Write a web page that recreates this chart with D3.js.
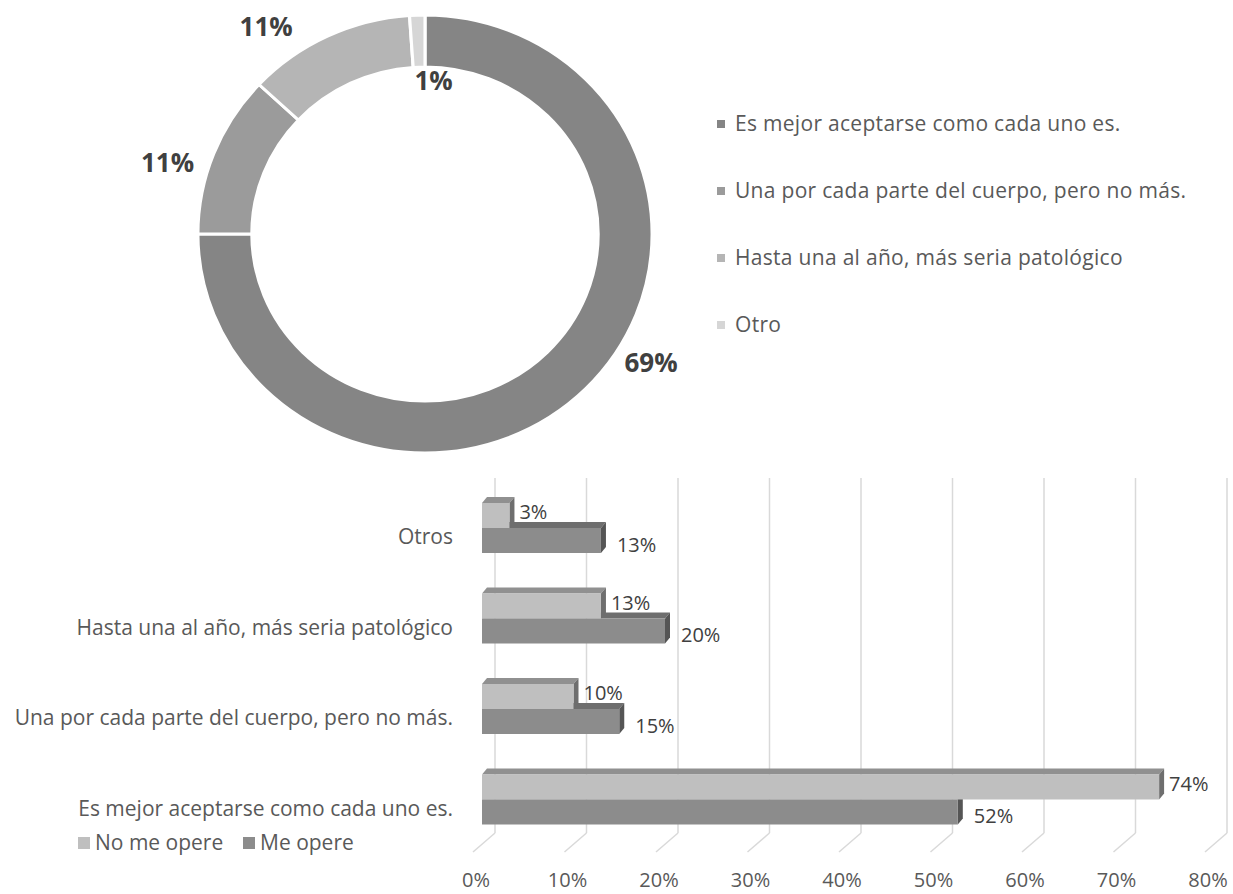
<!DOCTYPE html>
<html lang="es">
<head>
<meta charset="UTF-8">
<title>Cirugías estéticas</title>
<script src="https://d3js.org/d3.v7.min.js"></script>
<style>
  body { margin: 0; background: #fff; }
  svg text { font-family: "Open Sans", "Noto Sans", sans-serif; }
</style>
</head>
<body>
<svg width="1233" height="894"></svg>
<script>
// donut data
const donutLabels = [
  "Es mejor aceptarse como cada uno es.",
  "Una por cada parte del cuerpo, pero no más.",
  "Hasta una al año, más seria patológico",
  "Otro"
];
const donutValues = [69, 11, 11, 1];

// bar data
const barCategories = [
  "Otros",
  "Hasta una al año, más seria patológico",
  "Una por cada parte del cuerpo, pero no más.",
  "Es mejor aceptarse como cada uno es."
];
const seriesNames = ["No me opere", "Me opere"];
const noMeOpere = [3, 13, 10, 74];
const meOpere = [13, 20, 15, 52];
const xTicks = [0, 10, 20, 30, 40, 50, 60, 70, 80];

const svg = d3.select("svg");

// ---------- donut ----------
const donutColors = ["#858585", "#9b9b9b", "#b5b5b5", "#d6d6d6"];
const cx = 425, cy = 234;
const dg = svg.append("g").attr("transform", `translate(${cx},${cy}) scale(1.037,1)`);

const pie = d3.pie().sort(null).value(d => d);
const arc = d3.arc().innerRadius(167).outerRadius(219);

dg.selectAll("path")
  .data(pie(donutValues))
  .join("path")
  .attr("d", arc)
  .attr("fill", (d, i) => donutColors[i])
  .attr("stroke", "#fff")
  .attr("stroke-width", 3);

// label spots (angle in degrees clockwise from top, distance)
const labelSpots = [[119.6, 260], [285.4, 267], [322.5, 261], [3.2, 153]];
svg.selectAll(".dlabel")
  .data(donutValues)
  .join("text")
  .attr("class", "dlabel")
  .attr("x", (d, i) => cx + labelSpots[i][1] * Math.sin(labelSpots[i][0] * Math.PI / 180))
  .attr("y", (d, i) => cy - labelSpots[i][1] * Math.cos(labelSpots[i][0] * Math.PI / 180))
  .attr("dy", "0.35em")
  .attr("text-anchor", "middle")
  .attr("font-size", 26)
  .attr("font-weight", "bold")
  .attr("fill", "#404040")
  .text(d => d + "%");

const dLegend = svg.append("g").attr("transform", "translate(717,124)");
donutLabels.forEach((t, i) => {
  const row = dLegend.append("g").attr("transform", `translate(0,${i * 67})`);
  row.append("rect").attr("x", 0).attr("y", -4).attr("width", 8).attr("height", 8)
    .attr("fill", donutColors[i]);
  row.append("text").attr("x", 18).attr("dy", "0.35em")
    .attr("font-size", 21).attr("letter-spacing", 0.3)
    .attr("fill", "#595959").text(t);
});

// ---------- 3D bars ----------
const x = d3.scaleLinear().domain([0, 80]).range([482, 1214]);
const y = d3.scaleBand().domain(barCategories).range([482.75, 844.75])
  .paddingInner(0.4475).paddingOuter(0.22375);
const ySub = d3.scaleBand().domain(seriesNames).range([0, y.bandwidth()]);

const depthX = 5, depthY = -6;
const wallX = 13, wallTop = 478, wallBottom = 833;

// back wall gridlines + floor diagonals
const grid = svg.append("g");
xTicks.forEach(t => {
  grid.append("line")
    .attr("x1", x(t) + wallX).attr("x2", x(t) + wallX)
    .attr("y1", wallTop).attr("y2", wallBottom)
    .attr("stroke", "#d9d9d9").attr("stroke-width", 1.5);
  grid.append("line")
    .attr("x1", x(t) + wallX).attr("y1", wallBottom)
    .attr("x2", x(t) - 9).attr("y2", 852)
    .attr("stroke", "#d9d9d9").attr("stroke-width", 1.5);
});

svg.append("g").selectAll("text")
  .data(xTicks)
  .join("text")
  .attr("x", d => x(d) - 6)
  .attr("y", 880)
  .attr("dy", "0.35em")
  .attr("text-anchor", "middle")
  .attr("font-size", 20)
  .attr("fill", "#595959")
  .text(d => d + "%");

const faces = {
  "No me opere": { front: "#bfbfbf", top: "#909090", side: "#6e6e6e" },
  "Me opere": { front: "#8c8c8c", top: "#6e6e6e", side: "#555555" }
};

const bars = [];
barCategories.forEach((c, i) => {
  bars.push({ cat: c, series: "Me opere", value: meOpere[i] });
  bars.push({ cat: c, series: "No me opere", value: noMeOpere[i] });
});

const barG = svg.append("g");
bars.forEach(b => {
  const x0 = x(0), x1 = x(b.value);
  const y0 = y(b.cat) + ySub(b.series), h = ySub.bandwidth();
  const f = faces[b.series];
  const g = barG.append("g");
  g.append("polygon")
    .attr("points", [[x0, y0], [x0 + depthX, y0 + depthY], [x1 + depthX, y0 + depthY], [x1, y0]].join(" "))
    .attr("fill", f.top);
  g.append("polygon")
    .attr("points", [[x1, y0], [x1 + depthX, y0 + depthY], [x1 + depthX, y0 + h + depthY], [x1, y0 + h]].join(" "))
    .attr("fill", f.side);
  g.append("rect")
    .attr("x", x0).attr("y", y0).attr("width", x1 - x0).attr("height", h)
    .attr("fill", f.front);
  g.append("text")
    .attr("x", x1 + (b.series === "Me opere" ? 16 : 10))
    .attr("y", y0 + h / 2 + (b.series === "Me opere" ? 4 : -3))
    .attr("dy", "0.35em")
    .attr("font-size", 20)
    .attr("fill", "#404040")
    .text(b.value + "%");
});

// category labels
svg.append("g").selectAll("text")
  .data(barCategories)
  .join("text")
  .attr("x", 453)
  .attr("y", d => y(d) + y.bandwidth() / 2 + 9)
  .attr("dy", "0.35em")
  .attr("text-anchor", "end")
  .attr("font-size", 21)
  .attr("fill", "#595959")
  .text(d => d);

// bar legend
const bLegend = svg.append("g").attr("transform", "translate(78,843)");
seriesNames.forEach((s, i) => {
  const row = bLegend.append("g").attr("transform", `translate(${i * 165},0)`);
  row.append("rect").attr("x", 0).attr("y", -6).attr("width", 12).attr("height", 12)
    .attr("fill", faces[s].front);
  row.append("text").attr("x", 17).attr("dy", "0.35em")
    .attr("font-size", 21).attr("fill", "#595959").text(s);
});
</script>
</body>
</html>
